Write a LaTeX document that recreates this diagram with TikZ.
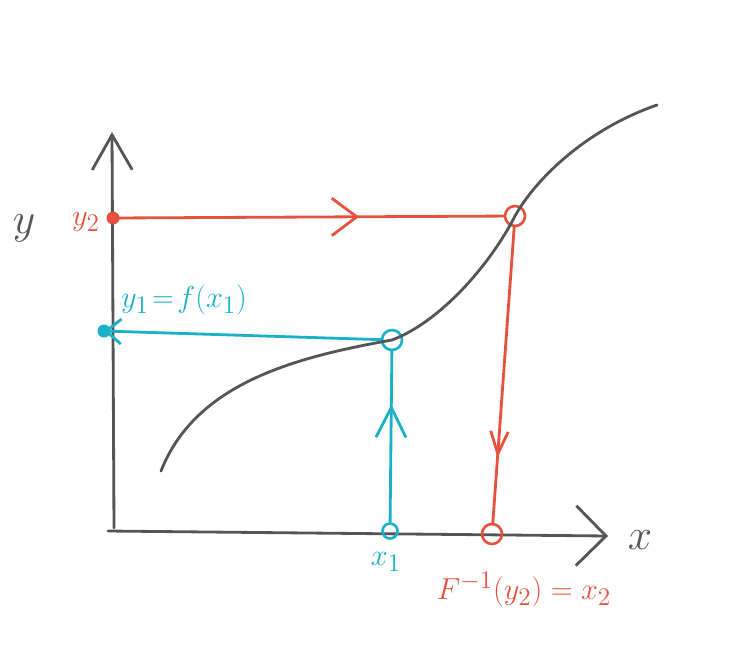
\documentclass[tikz,border=0pt]{standalone}
\usepackage{xcolor}
\definecolor{cInk}{HTML}{555555}
\definecolor{cRed}{HTML}{E5533F}
\definecolor{cCyan}{HTML}{1AB0C8}
\usetikzlibrary{arrows.meta,decorations.markings}
\tikzset{
  axis-line/.style={draw=cInk,line width=1.6pt,line cap=round},
  axis-tip/.style={-{Straight Barb[length=7mm,width=8mm]}},
  curve-line/.style={draw=cInk,line width=1.6pt,line cap=round},
  link-red/.style={draw=cRed,line width=1.6pt,line cap=round},
  link-cyan/.style={draw=cCyan,line width=1.6pt,line cap=round},
  pt-dot/.style={circle,fill=#1,inner sep=0pt,minimum size=2.6mm},
  pt-ring/.style={circle,draw=#1,line width=1.5pt,inner sep=0pt,minimum size=4mm},
  mid-arrow/.style 2 args={postaction={decorate},decoration={markings,
    mark=at position #1 with {\arrow{#2}}}},
  lbl/.style={font=\fontsize{19}{21}\selectfont},
  lbl-axis/.style={font=\fontsize{44}{44}\selectfont,text=cInk},
}

\begin{document}
\begin{tikzpicture}[x=0.02cm,y=-0.02cm]
  \useasboundingbox (0,0) rectangle (754,650);
  % axes
  \draw[axis-line,axis-tip] (114,528) -- (112,132);
  \draw[axis-line,-{Straight Barb[length=6mm,width=12mm]}] (108,531) -- (608,536);
  \node[lbl-axis] (ylab) at (24,228) {$y$};
  \node[lbl-axis] (xlab) at (640,540) {$x$};
  % points
  \node[pt-dot=cRed]   (y2) at (113,218) {};
  \node[pt-ring=cRed]  (p2) at (515,216) {};
  \node[pt-ring=cRed]  (x2) at (492,534) {};
  \node[pt-dot=cCyan]  (y1) at (104,331) {};
  \node[pt-ring=cCyan] (p1) at (392,340) {};
  \node[pt-ring=cCyan,minimum size=3mm] (x1) at (390,531) {};
  % the curve
  \coordinate (c-start) at (161,471);
  \coordinate (c-end)   at (657,105);
  \draw[curve-line] (c-start) .. controls (195,385) and (290,358) .. (p1.center)
    .. controls (440,322) and (490,265) .. (p2.center)
    .. controls (535,180) and (585,130) .. (c-end);
  % red path: y2 -> x2
  \draw[link-red,mid-arrow={0.63}{Straight Barb[length=5mm,width=7.5mm]}] (y2.center) -- (p2);
  \draw[link-red,mid-arrow={0.78}{Straight Barb[length=4.5mm,width=3.5mm]}] (p2) -- (x2);
  % cyan path: x1 -> y1
  \draw[link-cyan,mid-arrow={0.69}{Straight Barb[length=6mm,width=6mm]}] (x1) -- (p1);
  \draw[link-cyan,-{Straight Barb[length=3mm,width=5mm]}] (p1) -- (y1.center);
  % labels
  \node[lbl,text=cRed]  (y2lab) at (86,222)  {$y_2$};
  \node[lbl,text=cCyan] (y1lab) at (184,300) {$y_1\!=\!f(x_1)$};
  \node[lbl,text=cCyan] (x1lab) at (386,562) {$x_1$};
  \node[lbl,text=cRed]  (x2lab) at (524,590) {$F^{-1}(y_2)=x_2$};
\end{tikzpicture}
\end{document}
